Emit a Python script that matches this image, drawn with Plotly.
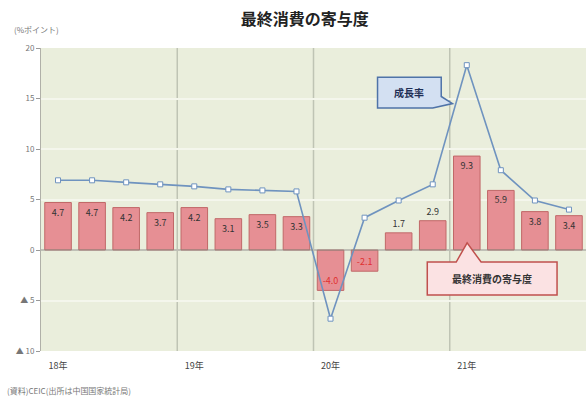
import plotly.graph_objects as go

quarters = ["18Q1","18Q2","18Q3","18Q4","19Q1","19Q2","19Q3","19Q4",
            "20Q1","20Q2","20Q3","20Q4","21Q1","21Q2","21Q3","21Q4"]
consumption = [4.7, 4.7, 4.2, 3.7, 4.2, 3.1, 3.5, 3.3, -4.0, -2.1, 1.7, 2.9, 9.3, 5.9, 3.8, 3.4]
growth = [6.9, 6.9, 6.7, 6.5, 6.3, 6.0, 5.9, 5.8, -6.8, 3.2, 4.9, 6.5, 18.3, 7.9, 4.9, 4.0]
year_labels = ["18年", "19年", "20年", "21年"]
y_tickvals = [20, 15, 10, 5, 0, -5, -10]
y_ticktext = ["20", "15", "10", "5", "0", "▲ 5", "▲ 10"]

xs = list(range(len(quarters)))
font = "Noto Sans CJK JP"

text_pos = ["outside" if 0 < v < 3 else "inside" for v in consumption]
text_col = ["#e03030" if v < 0 else "#333333" for v in consumption]

fig = go.Figure()
fig.add_trace(go.Bar(
    x=xs, y=consumption, width=0.78,
    marker=dict(color="#e68f94", line=dict(color="#c06868", width=1)),
    text=[f"{v:.1f}" for v in consumption], textposition=text_pos,
    insidetextanchor="end", textfont=dict(size=9, color=text_col, family=font),
    outsidetextfont=dict(size=9, color="#333333", family=font),
    cliponaxis=False, showlegend=False,
))
fig.add_trace(go.Scatter(
    x=xs, y=growth, mode="lines+markers",
    line=dict(color="#6f93bf", width=1.6),
    marker=dict(symbol="square", size=5, color="white", line=dict(color="#6f93bf", width=1)),
    showlegend=False,
))

shapes = []
# year boundaries
for i in range(1, 4):
    shapes.append(dict(type="line", xref="x", yref="paper", x0=4*i-0.5, x1=4*i-0.5, y0=0, y1=1,
                       line=dict(color="#bfc4b4", width=1.5), layer="below"))
# zero line
shapes.append(dict(type="line", xref="paper", yref="y", x0=0, x1=1, y0=0, y1=0,
                   line=dict(color="#8a8a80", width=1)))
# callout: growth rate
shapes.append(dict(type="path", xref="x", yref="y",
                   path="M 9.38,17.1 L 11.25,17.1 L 11.25,15.2 L 11.58,14.5 L 11.0,14.06 L 9.38,14.06 Z",
                   fillcolor="#d3e0f2", line=dict(color="#4f73a8", width=1.5)))
# callout: consumption
shapes.append(dict(type="path", xref="x", yref="y",
                   path="M 10.84,-1.19 L 11.69,-1.19 L 12.01,0.7 L 12.42,-1.19 L 14.65,-1.19 L 14.65,-4.46 L 10.84,-4.46 Z",
                   fillcolor="#fbe2e3", line=dict(color="#c0504d", width=1.5)))

annotations = [
    dict(text="成長率", x=10.3, y=15.6, xref="x", yref="y", showarrow=False,
         font=dict(size=10, color="#1f2f55", family=font, weight="bold")),
    dict(text="最終消費の寄与度", x=12.75, y=-2.85, xref="x", yref="y", showarrow=False,
         font=dict(size=10, color="#333333", family=font, weight="bold")),
    dict(text="(%ポイント)", x=-(41-12)/546, y=(351-30)/303, xref="paper", yref="paper",
         xanchor="left", yanchor="middle", showarrow=False,
         font=dict(size=8, color="#777777", family=font)),
    dict(text="(資料)CEIC(出所は中国国家統計局)", x=-(41-5)/546, y=-(390-351)/303,
         xref="paper", yref="paper", xanchor="left", yanchor="middle",
         showarrow=False, font=dict(size=8, color="#777777", family=font)),
]

fig.update_layout(
    width=586, height=396,
    margin=dict(l=41, r=0, t=48, b=45),
    paper_bgcolor="white", plot_bgcolor="#eaeedc",
    title=dict(text="最終消費の寄与度", x=0.52, xanchor="center", y=0.95, yanchor="middle",
               font=dict(size=16, color="#222222", family=font, weight="bold")),
    xaxis=dict(range=[-0.5, 15.5], tickvals=[0, 4, 8, 12], ticktext=year_labels,
               showgrid=False, zeroline=False, ticks="", showline=False,
               ticklabelstandoff=8,
               tickfont=dict(size=9, color="#444444", family=font)),
    yaxis=dict(range=[-10, 20], tickvals=y_tickvals, ticktext=y_ticktext,
               showgrid=True, gridcolor="#f4f6ec", gridwidth=1.5, zeroline=False,
               ticks="outside", ticklen=4, tickcolor="#999999",
               showline=True, linecolor="#b0b0a8",
               tickfont=dict(size=8, color="#777777", family=font)),
    shapes=shapes, annotations=annotations,
    bargap=0.22,
)
fig.write_html("out.html")
